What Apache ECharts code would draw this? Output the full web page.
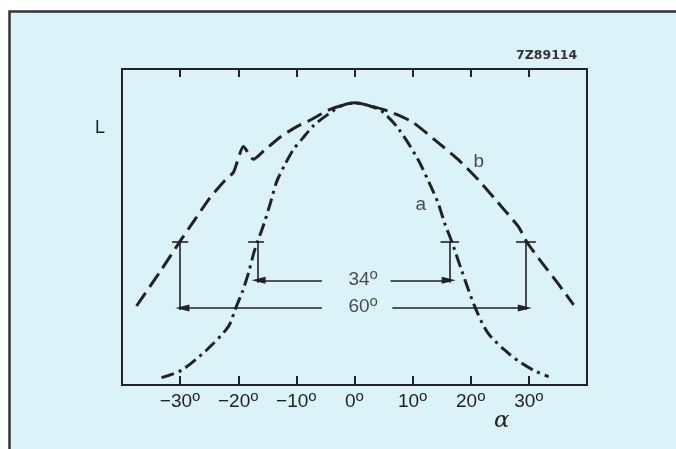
<!DOCTYPE html>
<html>
<head>
<meta charset="utf-8">
<script src="https://cdn.jsdelivr.net/npm/echarts@6/dist/echarts.min.js"></script>
<style>
  html, body { margin: 0; padding: 0; background: #fff; }
  #main { width: 676px; height: 449px; }
</style>
</head>
<body>
<div id="main"></div>
<script>
// angle ticks (degrees)
var xTicks = [-30, -20, -10, 0, 10, 20, 30];

// curve a (dash-dot, narrow beam)
var angleA = [-33.2, -29.7, -25.4, -21.7, -20.5, -19.3, -18.2, -17.3, -16.7, -15.6, -14.4, -13.4, -12.0, -10.5, -8.9, -7.0, -4.5, -2.2, 0,
              2.5, 4.6, 7.5, 10.9, 13.0, 14.4, 15.5, 16.7, 18.4, 20.7, 23.0, 26.5, 28.8, 31.0, 33.4];
var valueA = [0.026, 0.053, 0.125, 0.207, 0.27, 0.33, 0.40, 0.47, 0.507, 0.57, 0.65, 0.72, 0.78, 0.835, 0.875, 0.92, 0.96, 0.99, 1.0,
              0.99, 0.972, 0.91, 0.80, 0.71, 0.644, 0.574, 0.51, 0.408, 0.278, 0.183, 0.112, 0.077, 0.05, 0.029];

// curve b (dashed, wide beam)
var angleB = [-37.5, -33.5, -30.0, -27.5, -25.0, -22.5, -20.8, -19.1, -17.4, -15.6, -12.7, -10.0, -7.5, -4.1, 0,
              5.2, 9.8, 13.8, 17.9, 21.3, 25.3, 28.2, 29.7, 32.3, 35.0, 37.7];
var valueB = [0.28, 0.40, 0.51, 0.585, 0.66, 0.72, 0.755, 0.845, 0.80, 0.83, 0.88, 0.915, 0.94, 0.978, 1.0,
              0.975, 0.934, 0.869, 0.798, 0.727, 0.632, 0.561, 0.505, 0.432, 0.36, 0.284];

// half-width markers: [angle, bar from, bar to, lower end of the drop line]
var halfLevel = 0.507;
var markA = [[-16.7, -18.3, -15.6, 0.362], [16.4, 14.8, 18.0, 0.362]];
var markB = [[-30.0, -31.4, -28.6, 0.266], [29.5, 27.8, 31.2, 0.266]];

// width arrows: [level, left start, left tip, right start, right tip]
var arrows = [[0.371, -5.6, -16.5, 6.2, 16.2], [0.273, -5.6, -29.6, 6.5, 29.3]];

// labels inside the plot: [angle, value, text]
var notes = [[11.4, 0.638, 'a'], [21.4, 0.79, 'b'], [1.5, 0.372, '34{d|o}'], [1.5, 0.276, '60{d|o}']];

var ink = '#222';
var txt = '#222';
var font = 'Liberation Sans';

function pairs(xs, ys) {
    return xs.map(function (x, i) { return [x, ys[i]]; });
}

function degLabel(v) {
    return (v < 0 ? '\u2212' + Math.abs(v) : v) + '{d|o}';
}

var guideLines = [];
markA.concat(markB).forEach(function (m) {
    guideLines.push([{coord: [m[1], halfLevel]}, {coord: [m[2], halfLevel]}]);
    guideLines.push([{coord: [m[0], halfLevel]}, {coord: [m[0], m[3]]}]);
});

var arrowLines = [];
arrows.forEach(function (a) {
    arrowLines.push([{coord: [a[1], a[0]]}, {coord: [a[2], a[0]], symbol: 'triangle', symbolSize: [7, 14]}]);
    arrowLines.push([{coord: [a[3], a[0]]}, {coord: [a[4], a[0]], symbol: 'triangle', symbolSize: [7, 14]}]);
});

var degRich = {
    d: {fontSize: 15, fontFamily: font, color: txt, lineHeight: 15, padding: [0, 0, 10, 0]}
};

var myChart = echarts.init(document.getElementById('main'));

var option = {
    animation: false,
    backgroundColor: '#ffffff',
    graphic: [
        {
            type: 'rect', z: -10,
            shape: {x: 9.5, y: 11.5, width: 700, height: 500},
            style: {fill: '#dcf2f9', stroke: '#333', lineWidth: 2.5}
        },
        {
            type: 'text', left: 95, top: 119,
            style: {text: 'L', font: '18px "Liberation Sans"', fill: txt}
        },
        {
            type: 'text', left: 494, top: 410,
            style: {text: '\u03b1', font: 'italic 23px "DejaVu Serif"', fill: txt}
        },
        {
            type: 'text', left: 516, top: 49,
            style: {text: '7Z89114', font: 'bold 12.5px "DejaVu Sans"', fill: '#333'}
        }
    ],
    grid: {
        left: 122, right: 89, top: 69, bottom: 64,
        show: true, borderColor: ink, borderWidth: 2
    },
    xAxis: [
        {
            type: 'value', min: -40, max: 40, interval: 10,
            axisLine: {show: false},
            splitLine: {show: false},
            axisTick: {inside: true, length: 9, customValues: xTicks, lineStyle: {color: ink, width: 2}},
            axisLabel: {
                customValues: xTicks, margin: 7,
                fontSize: 19, fontFamily: font, color: txt,
                formatter: degLabel, rich: degRich
            }
        },
        {
            type: 'value', position: 'top', min: -40, max: 40, interval: 10,
            axisLine: {show: false},
            splitLine: {show: false},
            axisTick: {inside: true, length: 8, customValues: xTicks, lineStyle: {color: ink, width: 2}},
            axisLabel: {show: false}
        }
    ],
    yAxis: {
        type: 'value', min: 0, max: 1.12,
        axisLine: {show: false}, axisTick: {show: false},
        axisLabel: {show: false}, splitLine: {show: false}
    },
    series: [
        {
            name: 'a', type: 'line', smooth: 0.3, symbol: 'none',
            data: pairs(angleA, valueA),
            lineStyle: {color: ink, width: 3, type: [13, 5, 3, 5]}
        },
        {
            name: 'b', type: 'line', smooth: 0.2, symbol: 'none',
            data: pairs(angleB, valueB),
            lineStyle: {color: ink, width: 3, type: [16, 7]}
        },
        {
            name: 'guides', type: 'line', data: [],
            markLine: {
                silent: true, symbol: ['none', 'none'],
                label: {show: false},
                lineStyle: {color: ink, width: 1.6, type: 'solid'},
                data: guideLines
            }
        },
        {
            name: 'arrows', type: 'line', data: [],
            markLine: {
                silent: true, symbol: ['none', 'triangle'], symbolSize: 12,
                label: {show: false},
                itemStyle: {color: ink},
                lineStyle: {color: ink, width: 1.6, type: 'solid'},
                data: arrowLines
            }
        },
        {
            name: 'notes', type: 'scatter', symbolSize: 1, clip: false,
            itemStyle: {color: 'rgba(0,0,0,0)'},
            data: notes,
            label: {
                show: true, position: 'inside',
                fontSize: 19, fontFamily: font, color: txt,
                formatter: function (p) { return p.data[2]; },
                rich: degRich
            }
        }
    ]
};

myChart.setOption(option);
</script>
</body>
</html>
